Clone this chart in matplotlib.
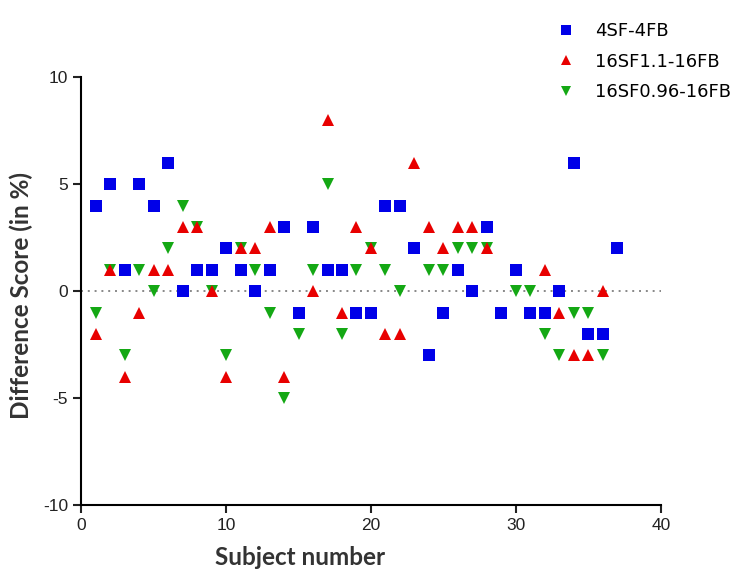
import numpy as np
import matplotlib
matplotlib.use('Agg')
import matplotlib.pyplot as plt

plt.rcParams['font.family'] = ['Liberation Sans', 'DejaVu Sans']
plt.rcParams['axes.unicode_minus'] = False

# subject numbers and difference scores (in %)
subj_a = list(range(1, 38))
score_a = [4, 5, 1, 5, 4, 6, 0, 1, 1, 2, 1, 0, 1, 3, -1, 3, 1, 1, -1, -1,
           4, 4, 2, -3, -1, 1, 0, 3, -1, 1, -1, -1, 0, 6, -2, -2, 2]

subj_b = list(range(1, 37))
score_b = [-2, 1, -4, -1, 1, 1, 3, 3, 0, -4, 2, 2, 3, -4, -1, 0, 8, -1, 3, 2,
           -2, -2, 6, 3, 2, 3, 3, 2, -1, 1, -1, 1, -1, -3, -3, 0]

subj_c = list(range(1, 37))
score_c = [-1, 1, -3, 1, 0, 2, 4, 3, 0, -3, 2, 1, -1, -5, -2, 1, 5, -2, 1, 2,
           1, 0, 2, 1, 1, 2, 2, 2, -1, 0, 0, -2, -3, -1, -1, -3]

labels = ['4SF-4FB', '16SF1.1-16FB', '16SF0.96-16FB']

fig = plt.figure(figsize=(7.51, 5.72), dpi=100)
ax = fig.add_axes([0.108, 0.117, 0.772, 0.748])

ax.axhline(0, color='#888888', linestyle=(0, (1, 2.5)), linewidth=1.4, zorder=1)

# green first, blue last (blue sits on top)
hc, = ax.plot(subj_c, score_c, 'v', color='#14a814', markersize=9, markeredgewidth=0, zorder=3)
hb, = ax.plot(subj_b, score_b, '^', color='#e80000', markersize=9, markeredgewidth=0, zorder=4)
ha, = ax.plot(subj_a, score_a, 's', color='#0000e8', markersize=8.5, markeredgewidth=0, zorder=5)

ax.set_xlim(0, 40)
ax.set_ylim(-10, 10)
ax.set_xticks([0, 10, 20, 30, 40])
ax.set_yticks([-10, -5, 0, 5, 10])
ax.spines['top'].set_visible(False)
ax.spines['right'].set_visible(False)
ax.spines['left'].set_linewidth(1.5)
ax.spines['bottom'].set_linewidth(1.5)
ax.tick_params(direction='out', length=6, width=1.5, labelsize=12.5, colors='#222222')

ax.set_xlabel('Subject number', fontsize=17.5, fontweight='bold', family=['Lato', 'DejaVu Sans'],
              color='#333333')
ax.set_ylabel('Difference Score (in %)', fontsize=17.5, fontweight='bold', family=['Lato', 'DejaVu Sans'],
              color='#333333')
ax.xaxis.set_label_coords(0.378, -0.095)
ax.yaxis.set_label_coords(-0.083, 0.49)

fig.legend([ha, hb, hc], labels, loc='upper left', bbox_to_anchor=(0.708, 0.99),
           frameon=False, handletextpad=0.6, labelspacing=0.7,
           markerscale=0.85, prop={'family': ['DejaVu Sans'], 'size': 13})

fig.savefig('out.png', dpi=100)
